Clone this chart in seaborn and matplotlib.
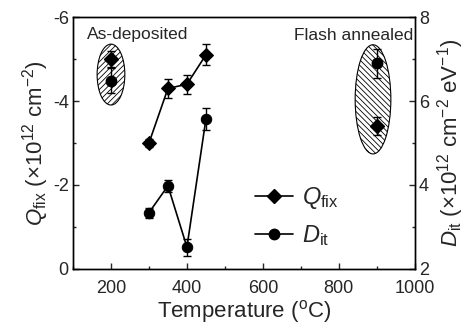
import matplotlib
matplotlib.use("Agg")
import matplotlib.pyplot as plt
import seaborn as sns
import pandas as pd
from matplotlib.patches import Ellipse
from matplotlib.lines import Line2D
from matplotlib.ticker import MultipleLocator

# Data
temp_line = [300, 350, 400, 450]
qfix_line = [-3.0, -4.3, -4.4, -5.1]
qfix_line_err = [0.1, 0.22, 0.23, 0.25]
dit_line = [3.34, 3.98, 2.52, 5.57]
dit_line_err = [0.12, 0.15, 0.2, 0.27]

temp_asdep = [200]
qfix_asdep = [-5.0]
qfix_asdep_err = [0.2]
dit_asdep = [6.48]
dit_asdep_err = [0.3]

temp_flash = [900]
qfix_flash = [-3.4]
qfix_flash_err = [0.22]
dit_flash = [6.9]
dit_flash_err = [0.35]

sns.set_style("ticks")
plt.rcParams['font.family'] = ['Liberation Sans', 'DejaVu Sans']
plt.rcParams['mathtext.fontset'] = 'custom'
plt.rcParams['mathtext.rm'] = 'Liberation Sans'
plt.rcParams['mathtext.it'] = 'Liberation Sans:italic'
plt.rcParams['axes.unicode_minus'] = False
plt.rcParams['hatch.linewidth'] = 0.6

fig = plt.figure(figsize=(4.65, 3.28), dpi=100)
ax = fig.add_axes([0.157, 0.18, 0.735, 0.768])
ax2 = ax.twinx()

df = pd.DataFrame({"T": temp_line, "Q": qfix_line, "D": dit_line})

# Qfix on left axis
sns.lineplot(data=df, x="T", y="Q", ax=ax, color="black", lw=1.2, marker="D",
             markersize=7.5, markeredgecolor="black", zorder=5, legend=False)
ax.errorbar(temp_line, qfix_line, yerr=qfix_line_err, fmt="none", ecolor="black",
            capsize=3, elinewidth=1, zorder=4)
ax.errorbar(temp_asdep + temp_flash, qfix_asdep + qfix_flash,
            yerr=qfix_asdep_err + qfix_flash_err, fmt="D", color="black",
            ms=7.5, capsize=3, elinewidth=1, zorder=5)

# Dit on right axis
sns.lineplot(data=df, x="T", y="D", ax=ax2, color="black", lw=1.2, marker="o",
             markersize=7.5, markeredgecolor="black", zorder=5, legend=False)
ax2.errorbar(temp_line, dit_line, yerr=dit_line_err, fmt="none", ecolor="black",
             capsize=3, elinewidth=1, zorder=4)
ax2.errorbar(temp_asdep + temp_flash, dit_asdep + dit_flash,
             yerr=dit_asdep_err + dit_flash_err, fmt="o", color="black",
             ms=7.5, capsize=3, elinewidth=1, zorder=5)

# Ellipses
e1 = Ellipse((200, -4.63), 73, 1.45, facecolor="none", edgecolor="black",
             hatch="//////", lw=0.8, zorder=1)
e2 = Ellipse((890, -4.04), 94, 2.6, facecolor="none", edgecolor="black",
             hatch="\\\\\\\\\\\\", lw=0.8, zorder=1)
ax.add_patch(e1)
ax.add_patch(e2)

ax.set_xlim(100, 1000)
ax.set_ylim(0, -6)
ax2.set_ylim(2, 8)

ax.xaxis.set_minor_locator(MultipleLocator(100))
ax.yaxis.set_minor_locator(MultipleLocator(1))
ax2.yaxis.set_major_locator(MultipleLocator(2))
ax2.yaxis.set_minor_locator(MultipleLocator(1))
ax.set_xticks([200, 400, 600, 800, 1000])
ax.set_yticks([0, -2, -4, -6])
ax.set_yticklabels(["0", "-2", "-4", "-6"])

for a in (ax, ax2):
    a.tick_params(which="major", direction="in", length=4, width=1, labelsize=13, pad=3)
    a.tick_params(which="minor", direction="in", length=2.5, width=1)
    for s in a.spines.values():
        s.set_linewidth(1)
        s.set_color("black")
ax.tick_params(axis="x", which="major", pad=8)
ax.tick_params(top=False, which="both")

ax.set_xlabel("Temperature ($^{\\rm o}$C)", fontsize=16, labelpad=1)
ax.set_ylabel("$Q_{\\rm fix}$ (×10$^{12}$ cm$^{-2}$)", fontsize=16, labelpad=1)
ax2.set_ylabel("$D_{\\rm it}$ (×10$^{12}$ cm$^{-2}$ eV$^{-1}$)", fontsize=16, labelpad=4)

ax.text(0.04, 0.96, "As-deposited", transform=ax.transAxes, fontsize=12.5,
        ha="left", va="top")
ax.text(0.995, 0.955, "Flash annealed", transform=ax.transAxes, fontsize=12.5,
        ha="right", va="top")

handles = [Line2D([], [], color="black", marker="D", ms=7.5, lw=1.2),
           Line2D([], [], color="black", marker="o", ms=7.5, lw=1.2)]
ax.legend(handles, ["$Q_{\\rm fix}$", "$D_{\\rm it}$"], loc="lower left",
          bbox_to_anchor=(0.47, 0.0), frameon=False, fontsize=17,
          handlelength=1.6, handletextpad=0.4, labelspacing=0.5)

fig.savefig("out.png", dpi=100)
